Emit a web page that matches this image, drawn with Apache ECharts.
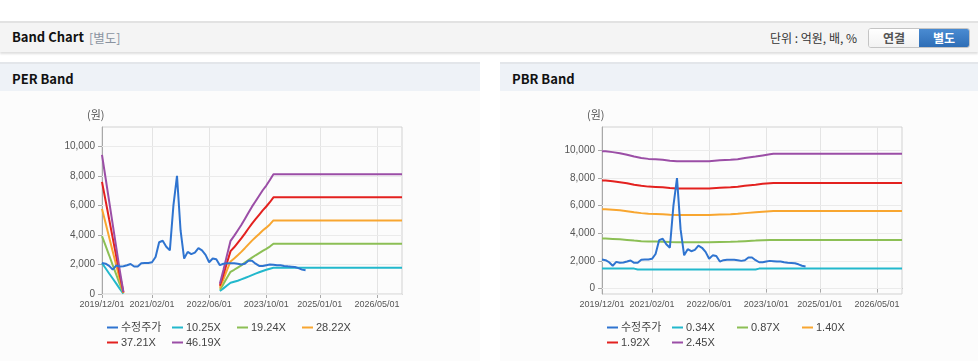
<!DOCTYPE html>
<html><head><meta charset="utf-8">
<script src="https://cdn.jsdelivr.net/npm/echarts@6/dist/echarts.min.js"></script>
<style>
html,body{margin:0;padding:0;}
body{width:978px;height:361px;overflow:hidden;background:#fff;position:relative;font-family:'Noto Sans CJK KR','Noto Sans',sans-serif;}
.hdr{position:absolute;left:0;top:21px;width:978px;height:29px;background:#f4f4f4;border-top:2px solid #e2e2e2;box-shadow:0 2px 2px rgba(0,0,0,0.13);}
.hdr .t{position:absolute;left:12px;top:4px;font-size:13px;font-weight:bold;color:#111;}
.hdr .s{position:absolute;left:89px;top:5px;font-size:12.5px;color:#8a93a0;}
.hdr .u{position:absolute;left:770px;top:6px;font-size:12px;color:#333;}
.btns{position:absolute;left:868px;top:5px;width:100px;height:18px;border:1px solid #c4c4c4;border-radius:3px;overflow:hidden;background:#fff;}
.btns div{position:absolute;top:0;height:18px;line-height:18px;width:50px;text-align:center;font-size:12px;font-weight:bold;}
.b1{left:0;color:#555;background:linear-gradient(#ffffff,#f2f2f2);}
.b2{left:50px;color:#fff;background:linear-gradient(#4a8bd2,#2f6eb6);}
.panel{position:absolute;top:62px;height:299px;background:#fcfcfc;border-top:2px solid #e3e6ea;}
.panel .ttl{position:absolute;left:0;top:0;right:0;height:27px;background:#eef2f7;}
.panel .ttl span{position:absolute;left:12px;top:5px;font-size:13px;font-weight:bold;color:#111;}
#chart{position:absolute;left:0;top:0;width:978px;height:361px;}
</style></head>
<body>
<div class="hdr"><span class="t">Band Chart</span><span class="s">[별도]</span><span class="u">단위 : 억원, 배, %</span>
<div class="btns"><div class="b1">연결</div><div class="b2">별도</div></div></div>
<div class="panel" style="left:0;width:480px;"><div class="ttl"><span>PER Band</span></div></div>
<div class="panel" style="left:500px;width:478px;"><div class="ttl"><span>PBR Band</span></div></div>
<div id="chart"></div>
<script>
// monthly categories 2019/12 .. 2026/12
const months = [];
for (let y = 2019, m = 12; !(y === 2027 && m === 1); ) {
  months.push(y + '/' + String(m).padStart(2, '0') + '/01');
  m++; if (m > 12) { m = 1; y++; }
}
const xTickLabels = ['2019/12/01', '2021/02/01', '2022/06/01', '2023/10/01', '2025/01/01', '2026/05/01'];
const yTicks = [0, 2000, 4000, 6000, 8000, 10000];

// 수정주가 (monthly from 2019/12)
const price = [2100,2050,1900,1650,1930,1860,1880,1950,2030,1860,1860,2080,2100,2100,2150,2500,3500,3600,3200,2950,6000,8000,4300,2400,2850,2700,2800,3100,2950,2650,2150,2400,2350,1950,2050,2080,2080,2080,2050,2000,2050,2250,2250,2050,1900,1900,1950,2000,1980,1950,1950,1900,1870,1850,1830,1750,1650,1600];

// PER band
const perNames = ['10.25X', '19.24X', '28.22X', '37.21X', '46.19X'];
const seg1 = ['2019/12/01','2020/01/01','2020/02/01','2020/03/01','2020/04/01','2020/05/01','2020/06/01'];
const seg2 = ['2022/09/01','2022/10/01','2022/11/01','2022/12/01','2023/01/01','2023/02/01','2023/03/01','2023/04/01','2023/05/01','2023/06/01','2023/07/01','2023/08/01','2023/09/01','2023/10/01','2023/11/01','2023/12/01'];
const per1025a = [2090,1740,1390,1050,700,350,30];
const per1924a = [3920,3270,2620,1960,1310,650,60];
const per2822a = [5760,4800,3840,2880,1920,960,85];
const per3721a = [7590,6330,5060,3800,2530,1270,110];
const per4619a = [9420,7850,6280,4710,3140,1570,140];
const per1025b = [200,380,580,760,830,900,990,1080,1180,1280,1380,1470,1560,1640,1710,1770];
const per1924b = [290,670,1100,1500,1640,1790,1940,2120,2290,2460,2620,2770,2920,3060,3210,3400];
const per2822b = [420,990,1610,2200,2400,2620,2850,3100,3360,3610,3840,4060,4290,4490,4710,4980];
const per3721b = [560,1300,2120,2900,3160,3460,3760,4090,4430,4760,5060,5360,5660,5920,6210,6540];
const per4619b = [690,1620,2630,3600,3930,4300,4670,5080,5500,5910,6280,6650,7020,7340,7710,8100];
const perLast = '2026/12/01';

// PBR band (key months)
const pbrNames = ['0.34X', '0.87X', '1.40X', '1.92X', '2.45X'];
const pbrKeys = ['2019/12/01','2020/01/01','2020/03/01','2020/05/01','2020/07/01','2020/09/01','2020/11/01','2021/01/01','2021/03/01','2021/05/01','2021/07/01','2021/09/01','2022/06/01','2022/09/01','2022/12/01','2023/02/01','2023/04/01','2023/07/01','2023/09/01','2023/11/01','2023/12/01','2026/12/01'];
const pbr245 = [9950,9950,9880,9800,9690,9560,9460,9390,9360,9330,9260,9220,9220,9290,9320,9370,9460,9560,9640,9720,9760,9760];
const pbr192 = [7820,7820,7770,7700,7620,7510,7440,7380,7360,7330,7280,7250,7250,7300,7330,7370,7440,7510,7580,7630,7640,7640];
const pbr140 = [5740,5740,5700,5660,5590,5520,5460,5420,5400,5380,5340,5320,5320,5360,5380,5410,5460,5520,5560,5600,5610,5610];
const pbr087 = [3620,3620,3590,3560,3520,3470,3430,3410,3400,3390,3360,3350,3350,3370,3380,3400,3430,3470,3500,3520,3510,3510];
const pbr034Keys = ['2019/12/01','2020/09/01','2020/10/01','2023/07/01','2023/08/01','2026/12/01'];
const pbr034 = [1440,1440,1380,1380,1440,1440];

const colors = {price:'#2f74d0', c1:'#22b8cc', c2:'#8cbf55', c3:'#f8a630', c4:'#e3211f', c5:'#9b4ea6'};
const bandColors = [colors.c1, colors.c2, colors.c3, colors.c4, colors.c5];

function zip(keys, vals) { return keys.map((k, i) => [k, vals[i]]); }
function perBand(a, b) {
  return zip(seg1, a).concat([['2020/07/01', null]], zip(seg2, b), [[perLast, b[b.length - 1]]]);
}
const perData = [perBand(per1025a, per1025b), perBand(per1924a, per1924b), perBand(per2822a, per2822b), perBand(per3721a, per3721b), perBand(per4619a, per4619b)];
const pbrData = [zip(pbr034Keys, pbr034), zip(pbrKeys, pbr087), zip(pbrKeys, pbr140), zip(pbrKeys, pbr192), zip(pbrKeys, pbr245)];

const labelIdx = xTickLabels.map(l => months.indexOf(l));
const showIdx = (i) => labelIdx.indexOf(i) >= 0;
const font = "'Liberation Sans','Noto Sans CJK KR',sans-serif";

function xAxis(gi) {
  return {
    type: 'category', gridIndex: gi, data: months, boundaryGap: false,
    axisLine: {lineStyle: {color: '#a8a8a8'}},
    axisTick: {show: true, interval: showIdx, length: 4, lineStyle: {color: '#a8a8a8'}},
    axisLabel: {interval: showIdx, color: '#555', fontSize: 9, fontFamily: font, margin: 6, hideOverlap: false},
    splitLine: {show: true, interval: showIdx, lineStyle: {color: '#e4e4e4'}}
  };
}
function yAxis(gi, min, max) {
  return {
    type: 'value', gridIndex: gi, min: min, max: max,
    axisLine: {show: true, lineStyle: {color: '#a8a8a8'}},
    axisTick: {show: true, length: 4, customValues: yTicks, lineStyle: {color: '#a8a8a8'}},
    axisLabel: {color: '#555', fontSize: 10, fontFamily: font, margin: 7, customValues: yTicks,
      formatter: v => Number(v).toLocaleString('en-US')},
    splitLine: {show: false}
  };
}

const series = [];
function addChart(gi, names, data) {
  // horizontal grid lines drawn through the y scale
  series.push({type: 'line', xAxisIndex: gi, yAxisIndex: gi, data: [], silent: true, z: 1,
    markLine: {silent: true, symbol: 'none', animation: false, z: 1,
      lineStyle: {color: '#ebebeb', type: 'solid', width: 1},
      label: {show: false}, emphasis: {disabled: true},
      data: yTicks.map(v => ({yAxis: v}))}});
  names.forEach((n, i) => series.push({name: n, type: 'line', xAxisIndex: gi, yAxisIndex: gi, data: data[i],
    showSymbol: false, connectNulls: false, lineStyle: {width: 2, color: bandColors[i]}, itemStyle: {color: bandColors[i]}, z: 3}));
  series.push({name: '수정주가', type: 'line', xAxisIndex: gi, yAxisIndex: gi, data: price,
    showSymbol: false, lineStyle: {width: 2, color: colors.price}, itemStyle: {color: colors.price}, z: 4});
}
addChart(0, perNames, perData);
addChart(1, pbrNames, pbrData);

const legends = [];
function addLegends(x0, names) {
  const all = ['수정주가'].concat(names);
  const cols = [0, 65, 130, 195];
  all.forEach((n, i) => {
    legends.push({data: [n], left: x0 + cols[i % 4], top: i < 4 ? 322 : 337, padding: 0,
      icon: 'rect', itemWidth: 11, itemHeight: 2, selectedMode: false,
      textStyle: {fontSize: 11, color: '#444', fontFamily: font, padding: [0, 0, 0, -2]}});
  });
}
addLegends(107, perNames);
addLegends(607, pbrNames);

const chart = echarts.init(document.getElementById('chart'), null, {renderer: 'canvas'});
chart.setOption({
  animation: false,
  backgroundColor: 'transparent',
  grid: [
    {left: 102, top: 127, width: 300, height: 167, show: true, borderColor: '#d2d2d2', backgroundColor: 'transparent'},
    {left: 602, top: 127, width: 300, height: 167, show: true, borderColor: '#d2d2d2', backgroundColor: 'transparent'}
  ],
  xAxis: [xAxis(0), xAxis(1)],
  yAxis: [yAxis(0, 0, 11300), yAxis(1, -400, 11700)],
  legend: legends,
  graphic: [
    {type: 'text', left: 87, top: 109, style: {text: '(원)', fontSize: 11, fill: '#555', fontFamily: "'Noto Sans CJK KR',sans-serif"}},
    {type: 'text', left: 587, top: 109, style: {text: '(원)', fontSize: 11, fill: '#555', fontFamily: "'Noto Sans CJK KR',sans-serif"}}
  ],
  series: series
});
</script>
</body></html>
